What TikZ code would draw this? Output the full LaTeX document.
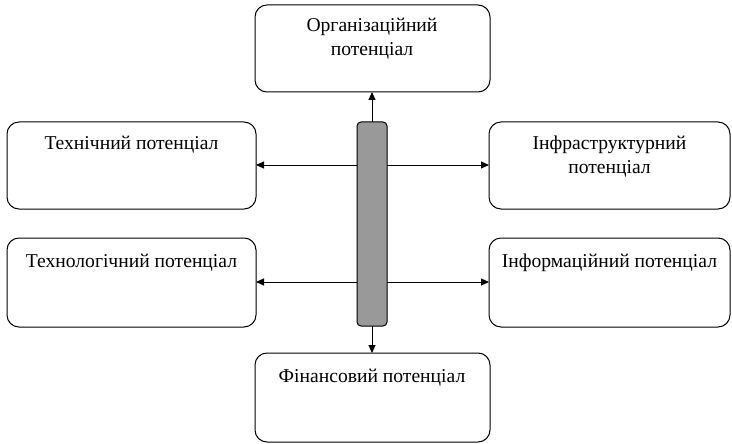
\documentclass[tikz,border=0pt]{standalone}
\usepackage{fontspec}
\setmainfont{Liberation Serif}
\usetikzlibrary{arrows.meta}
\begin{document}
\begin{tikzpicture}[x=1pt,y=-1pt,
  potbox/.style={draw=black,line width=1pt,rounded corners=12pt,fill=white},
  potlabel/.style={anchor=north,align=center,inner sep=0pt,
    font=\fontsize{19.6}{23.5}\selectfont},
  core/.style={draw=black,line width=1pt,rounded corners=4pt,fill=black!40},
  link/.style={draw=black,line width=1pt,-{Triangle[length=8pt,width=7pt]}}]
\useasboundingbox (0,0) rectangle (732,444);

% central column
\draw[core] (357,122) rectangle (387,326);
\coordinate (bartop) at (372,122);
\coordinate (barbot) at (372,326);
\coordinate (barL1) at (357,165);
\coordinate (barR1) at (387,165);
\coordinate (barL2) at (357,282);
\coordinate (barR2) at (387,282);

% surrounding boxes
\draw[potbox] (255,5) rectangle (490,92);
\coordinate (org) at (372,92);
\node[potlabel] (orgT) at (372,18) {Організаційний\\потенціал};

\draw[potbox] (7,122) rectangle (256,209);
\coordinate (tech) at (256,165);
\node[potlabel] (techT) at (131.5,136) {Технічний потенціал};

\draw[potbox] (489,122) rectangle (730,209);
\coordinate (infra) at (489,165);
\node[potlabel] (infraT) at (609.5,136) {Інфраструктурний\\потенціал};

\draw[potbox] (7,238) rectangle (256,327);
\coordinate (techn) at (256,282);
\node[potlabel] (technT) at (131.5,254) {Технологічний потенціал};

\draw[potbox] (489,238) rectangle (730,327);
\coordinate (inform) at (489,282);
\node[potlabel] (informT) at (609.5,254) {Інформаційний потенціал};

\draw[potbox] (255,353) rectangle (490,442);
\coordinate (fin) at (372,353);
\node[potlabel] (finT) at (372,369) {Фінансовий потенціал};

% connectors
\draw[link] (bartop) -- (org);
\draw[link] (barbot) -- (fin);
\draw[link] (barL1) -- (tech);
\draw[link] (barR1) -- (infra);
\draw[link] (barL2) -- (techn);
\draw[link] (barR2) -- (inform);
\end{tikzpicture}
\end{document}
